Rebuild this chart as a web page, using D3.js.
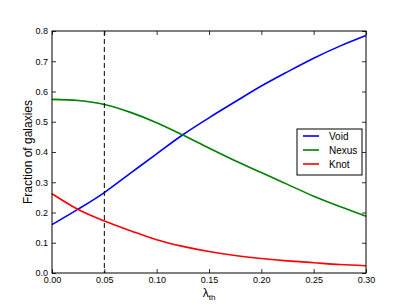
<!DOCTYPE html>
<html><head><meta charset="utf-8">
<script src="https://cdn.jsdelivr.net/npm/d3@7"></script>
<style>body{margin:0;background:#fff}svg{display:block}text{font-family:"Liberation Sans",Arial,sans-serif}</style>
</head><body><svg id="c" width="407" height="305"></svg>
<script>
const lambda = [0,0.025,0.05,0.075,0.10,0.125,0.15,0.175,0.20,0.225,0.25,0.275,0.30];
const voidVals  = [0.160,0.211,0.266,0.330,0.394,0.457,0.513,0.566,0.618,0.665,0.710,0.750,0.785];
const nexusVals = [0.574,0.570,0.557,0.531,0.497,0.456,0.413,0.371,0.332,0.293,0.254,0.220,0.188];
const knotVals  = [0.262,0.210,0.172,0.140,0.110,0.088,0.071,0.058,0.048,0.040,0.034,0.028,0.024];
const seriesNames = ["Void","Nexus","Knot"];
const seriesColors = ["#0000ff","#008000","#ff0000"];
const xTicks = [0,0.05,0.10,0.15,0.20,0.25,0.30];
const yTicks = [0,0.1,0.2,0.3,0.4,0.5,0.6,0.7,0.8];
const threshold = 0.05;

const svg = d3.select("#c");
const L=52,R=366,T=31,B=273;
const x = d3.scaleLinear().domain([0,0.3]).range([L,R]);
const y = d3.scaleLinear().domain([0,0.8]).range([B,T]);

const g = svg.append("g");
const allVals=[voidVals,nexusVals,knotVals];
const line = d3.line().x(d=>x(d[0])).y(d=>y(d[1])).curve(d3.curveCatmullRom);
allVals.forEach((vals,i)=>{
  g.append("path").datum(lambda.map((l,j)=>[l,vals[j]]))
   .attr("d",line).attr("fill","none").attr("stroke",seriesColors[i]).attr("stroke-width",1.6);
});
g.append("line").attr("x1",x(threshold)).attr("x2",x(threshold)).attr("y1",T).attr("y2",B)
 .attr("stroke","#000").attr("stroke-width",1).attr("stroke-dasharray","5,3");

const fmt=d3.format(".2f"), fmt1=d3.format(".1f");
const ax = d3.axisBottom(x).tickValues(xTicks).tickFormat(fmt).tickSizeInner(-4).tickSizeOuter(0).tickPadding(4);
const axT = d3.axisTop(x).tickValues(xTicks).tickFormat("").tickSizeInner(-4).tickSizeOuter(0);
const ay = d3.axisLeft(y).tickValues(yTicks).tickFormat(fmt1).tickSizeInner(-4).tickSizeOuter(0).tickPadding(4);
const ayR = d3.axisRight(y).tickValues(yTicks).tickFormat("").tickSizeInner(-4).tickSizeOuter(0);
function style(sel){sel.select(".domain").remove();sel.selectAll("line").attr("stroke","#000").attr("stroke-width",0.8);sel.selectAll("text").attr("font-size",9).attr("fill","#000").style("font-family","Liberation Sans, Arial, sans-serif");}
svg.append("g").attr("transform",`translate(0,${B})`).call(ax).call(style);
svg.append("g").attr("transform",`translate(0,${T})`).call(axT).call(style);
svg.append("g").attr("transform",`translate(${L},0)`).call(ay).call(style);
svg.append("g").attr("transform",`translate(${R},0)`).call(ayR).call(style);
svg.append("rect").attr("x",L).attr("y",T).attr("width",R-L).attr("height",B-T).attr("fill","none").attr("stroke","#000").attr("stroke-width",1);

svg.append("text").attr("transform",`translate(32,${(T+B)/2}) rotate(-90)`).attr("text-anchor","middle")
 .attr("font-size",12).text("Fraction of galaxies");
const xl = svg.append("text").attr("x",(L+R)/2).attr("y",297).attr("text-anchor","middle")
 .attr("font-family","DejaVu Serif, serif").attr("font-size",12);
xl.append("tspan").text("λ");
xl.append("tspan").attr("font-size",8).attr("dy",3).text("th");

const lg = svg.append("g");
lg.append("rect").attr("x",297).attr("y",129).attr("width",65).attr("height",46).attr("fill","#fff").attr("stroke","#000").attr("stroke-width",1);
seriesNames.forEach((n,i)=>{
  const yy=136+i*14;
  lg.append("line").attr("x1",303).attr("x2",319).attr("y1",yy).attr("y2",yy).attr("stroke",seriesColors[i]).attr("stroke-width",1.6);
  lg.append("text").attr("x",329).attr("y",yy+3.5).attr("font-size",10).text(n);
});
</script></body></html>
